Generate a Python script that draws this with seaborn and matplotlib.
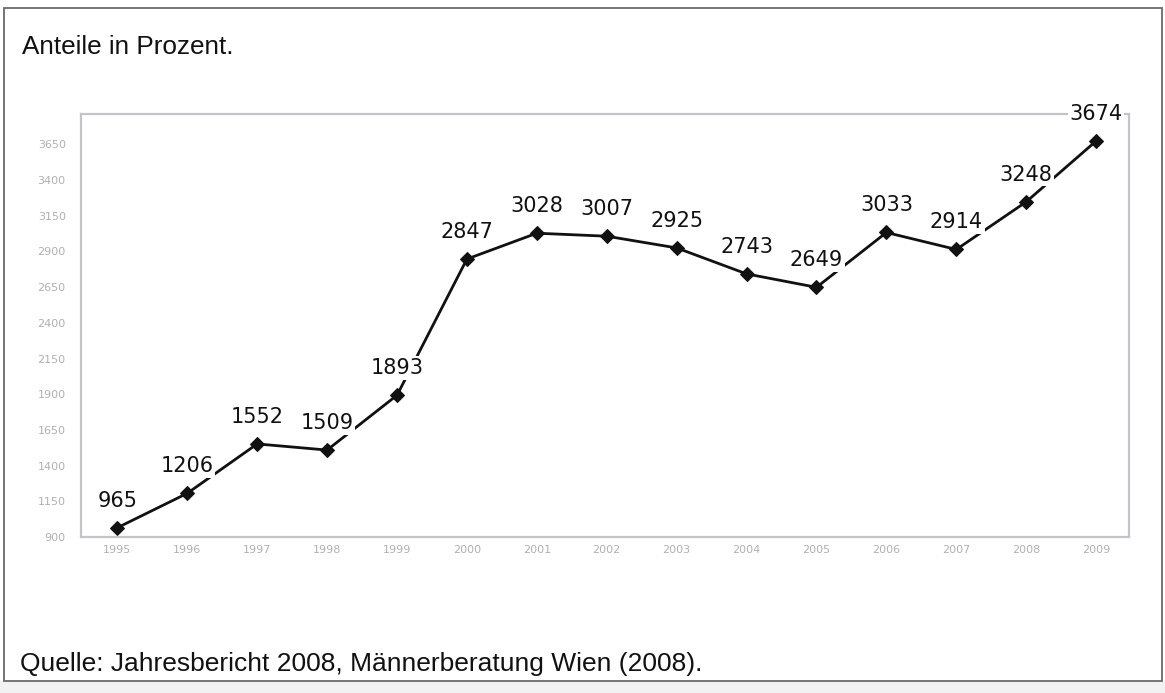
import matplotlib
matplotlib.use("Agg")
import matplotlib.pyplot as plt
import matplotlib.patches as mpatches
import seaborn as sns
import pandas as pd

years = [1995, 1996, 1997, 1998, 1999, 2000, 2001, 2002, 2003, 2004, 2005, 2006, 2007, 2008, 2009]
values = [965, 1206, 1552, 1509, 1893, 2847, 3028, 3007, 2925, 2743, 2649, 3033, 2914, 3248, 3674]
y_ticks = [900, 1150, 1400, 1650, 1900, 2150, 2400, 2650, 2900, 3150, 3400, 3650]
title_text = "Anteile in Prozent."
source_text = "Quelle: Jahresbericht 2008, Männerberatung Wien (2008)."

df = pd.DataFrame({"Jahr": years, "Wert": values})

sns.set_theme(style="white")
plt.rcParams["font.family"] = ["DejaVu Sans"]

W, H = 1165, 693
fig = plt.figure(figsize=(W / 100, H / 100), dpi=100)
fig.patch.set_facecolor("white")

# outer frame and bottom band
fig.patches.append(mpatches.Rectangle((0, 0), 1, 12 / H, transform=fig.transFigure,
                                      facecolor="#f2f2f2", edgecolor="none", zorder=0))
fig.patches.append(mpatches.Rectangle((4 / W, 12 / H), (1162 - 4) / W, (685 - 12) / H,
                                      transform=fig.transFigure, facecolor="none",
                                      edgecolor="#6a6a6a", linewidth=1.3, zorder=1))

ax = fig.add_axes([81 / W, 156 / H, (1129 - 81) / W, (537 - 114) / H])
sns.lineplot(data=df, x="Jahr", y="Wert", ax=ax, color="#111111", linewidth=2.0,
             marker="D", markersize=7, markeredgecolor="#111111", markerfacecolor="#111111")

ax.set_xlim(1994.48, 2009.47)
ax.set_ylim(900, 3863)
ax.set_xticks(years)
ax.set_xticklabels([str(y) for y in years])
ax.set_yticks(y_ticks)
ax.set_yticklabels([str(t) for t in y_ticks])
ax.tick_params(axis="both", length=0, colors="#b0b0b0", labelsize=8)
ax.tick_params(axis="y", pad=11)
ax.tick_params(axis="x", pad=6)
ax.set_xlabel("")
ax.set_ylabel("")
for s in ax.spines.values():
    s.set_visible(True)
    s.set_color("#c4c4c8")
    s.set_linewidth(1.6)

for x, y in zip(years, values):
    ax.annotate(str(y), xy=(x, y), xytext=(0, 19.5), textcoords="offset points",
                ha="center", va="center", fontsize=15, color="#111111",
                bbox=dict(boxstyle="square,pad=0.08", facecolor="white", edgecolor="none"),
                zorder=5)

fig.text(22 / W, 1 - 47 / H, title_text, family=["Liberation Sans"], fontsize=18.8,
         color="#111111", ha="left", va="center")
fig.text(20 / W, 1 - 664 / H, source_text, family=["Liberation Sans"], fontsize=19,
         color="#111111", ha="left", va="center")

fig.savefig("out.png", dpi=100, facecolor="white")
